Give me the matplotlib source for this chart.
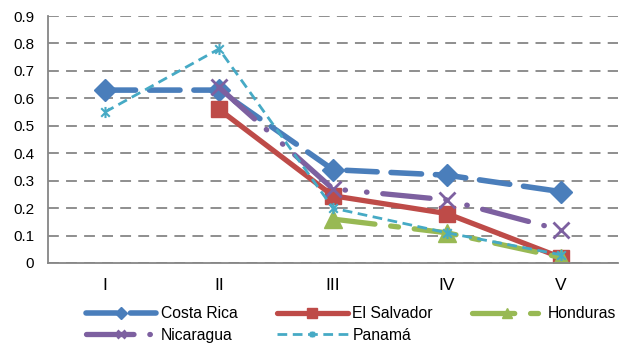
import numpy as np
import matplotlib
matplotlib.use("Agg")
import matplotlib.pyplot as plt
from matplotlib.path import Path

plt.rcParams['font.family'] = ['Liberation Sans', 'DejaVu Sans']

categories = ["I", "II", "III", "IV", "V"]
costa_rica = [0.63, 0.63, 0.34, 0.32, 0.26]
el_salvador = [np.nan, 0.56, 0.245, 0.18, 0.02]
honduras = [np.nan, np.nan, 0.16, 0.11, 0.02]
nicaragua = [np.nan, 0.64, 0.27, 0.23, 0.12]
panama = [0.55, 0.78, 0.20, 0.11, 0.03]
y_ticks = [0, 0.1, 0.2, 0.3, 0.4, 0.5, 0.6, 0.7, 0.8, 0.9]

# star marker: an X crossed by a vertical bar
star = Path([(-1, -1), (1, 1), (-1, 1), (1, -1), (0, -1.3), (0, 1.3)],
            [Path.MOVETO, Path.LINETO, Path.MOVETO, Path.LINETO, Path.MOVETO, Path.LINETO])

fig = plt.figure(figsize=(6.21, 3.46), dpi=100)
ax = fig.add_axes([48 / 621, 83 / 346, 570 / 621, 247 / 346])

x = np.arange(len(categories))

h_cr, = ax.plot(x, costa_rica, color="#4A7EBB", lw=4.0, dashes=(5.5, 2.5),
                dash_capstyle="round", marker="D", ms=11, label="Costa Rica")
h_es, = ax.plot(x, el_salvador, color="#BE4B48", lw=3.8, solid_capstyle="round",
                marker="s", ms=12, label="El Salvador")
h_ho, = ax.plot(x, honduras, color="#98B954", lw=3.8, dashes=(8, 3, 1.5, 3),
                dash_capstyle="round", marker="^", ms=13, label="Honduras")
h_ni, = ax.plot(x, nicaragua, color="#7D60A0", lw=3.8, dashes=(9, 3, 0.1, 4, 0.1, 3),
                dash_capstyle="round", marker="x", ms=11, mew=2, label="Nicaragua")
h_pa, = ax.plot(x, panama, color="#46AAC5", lw=2.0, dashes=(3.5, 2),
                marker=star, ms=8, mew=1.5, label="Panamá")

ax.set_xlim(-0.5, len(categories) - 0.5)
ax.set_ylim(0, 0.9)
ax.set_yticks(y_ticks)
ax.set_yticklabels([f"{v:g}" for v in y_ticks])
ax.set_xticks(x)
ax.set_xticklabels(categories)
ax.yaxis.grid(True, color="#868686", lw=1.3, dashes=(6, 4))
ax.set_axisbelow(True)
for s in ("top", "right"):
    ax.spines[s].set_visible(False)
for s in ("left", "bottom"):
    ax.spines[s].set_color("#868686")
    ax.spines[s].set_linewidth(1.3)
ax.tick_params(axis="both", length=0, colors="black")
ax.tick_params(axis="y", labelsize=11, pad=10)
ax.tick_params(axis="x", labelsize=12.5, pad=10.5)

# rows read left to right: matplotlib fills legend columns first
handles = [h_cr, h_ni, h_es, h_pa, h_ho]
ax.legend(handles=handles, labels=[h.get_label() for h in handles],
          loc="upper left", bbox_to_anchor=(0.055, -0.15), ncol=3, frameon=False,
          fontsize=11.3, handlelength=4.5, columnspacing=2.5, handletextpad=0.3,
          labelspacing=0.4, borderaxespad=0, markerscale=0.55)

fig.savefig("out.png", dpi=100)
